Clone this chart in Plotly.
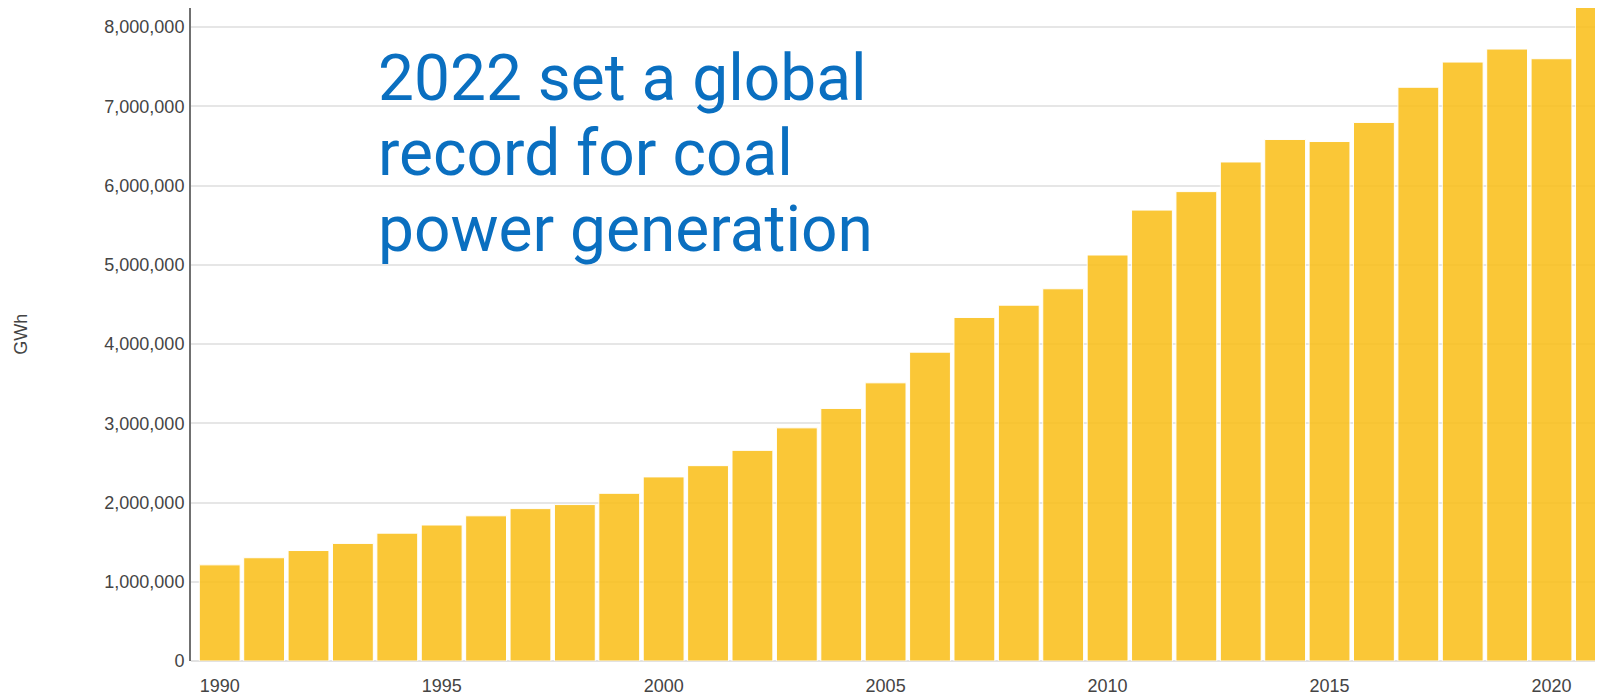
import plotly.graph_objects as go

# global coal power generation, GWh
years = list(range(1990, 2022))
coal_gwh = [1213000, 1303000, 1394000, 1484000, 1613000, 1716000, 1832000, 1923000,
            1974000, 2116000, 2323000, 2465000, 2658000, 2942000, 3187000, 3510000,
            3897000, 4335000, 4490000, 4697000, 5123000, 5690000, 5923000, 6297000,
            6581000, 6555000, 6796000, 7240000, 7558000, 7722000, 7600000, 8250000]

headline = ["2022 set a global", "record for coal", "power generation"]
ytick_vals = [0, 1000000, 2000000, 3000000, 4000000, 5000000, 6000000, 7000000, 8000000]
xtick_vals = [1990, 1995, 2000, 2005, 2010, 2015, 2020]

tick_font = dict(family='Liberation Sans', size=18, color='#444')

fig = go.Figure()
fig.add_trace(go.Bar(x=years, y=coal_gwh,
                     marker=dict(color='rgb(250,191,26)', opacity=0.87,
                                 line=dict(color='white', width=1)),
                     hovertemplate='%{x}: %{y:,} GWh<extra></extra>'))

fig.update_xaxes(range=[1989.353, 2021.16], tickvals=xtick_vals,
                 showgrid=False, showline=False, zeroline=False,
                 ticks='outside', ticklen=8, tickcolor='rgba(0,0,0,0)',
                 tickfont=tick_font)
fig.update_yaxes(range=[0, 8240000], tickvals=ytick_vals, tickformat=',',
                 showgrid=True, gridcolor='#e6e6e6', gridwidth=2,
                 zeroline=True, zerolinecolor='#e2e2e2', zerolinewidth=2,
                 showline=True, linecolor='#707070', linewidth=2,
                 ticks='outside', ticklen=1, tickcolor='rgba(0,0,0,0)',
                 tickfont=tick_font)

# y axis label
fig.add_annotation(text='GWh', xref='paper', yref='paper', x=-0.121, y=0.5,
                   textangle=-90, showarrow=False, xanchor='center', yanchor='middle',
                   font=dict(family='Liberation Sans', size=18, color='#444'))

# headline, one line per annotation to keep tight line spacing
for i, line in enumerate(headline):
    fig.add_annotation(text=line, xref='paper', yref='paper', x=0.131,
                       y=0.953 - i * 0.1156, xanchor='left', yanchor='top',
                       showarrow=False,
                       font=dict(family='Roboto', size=64, color='#0a6fc0'))

# page body adds 8px offset, so margins are shifted to compensate
fig.update_layout(width=1603, height=694,
                  margin={"l": 183, "r": 8, "t": 0, "b": 41},
                  bargap=0.08, showlegend=False,
                  paper_bgcolor='white', plot_bgcolor='white')

fig.write_html("out.html")
